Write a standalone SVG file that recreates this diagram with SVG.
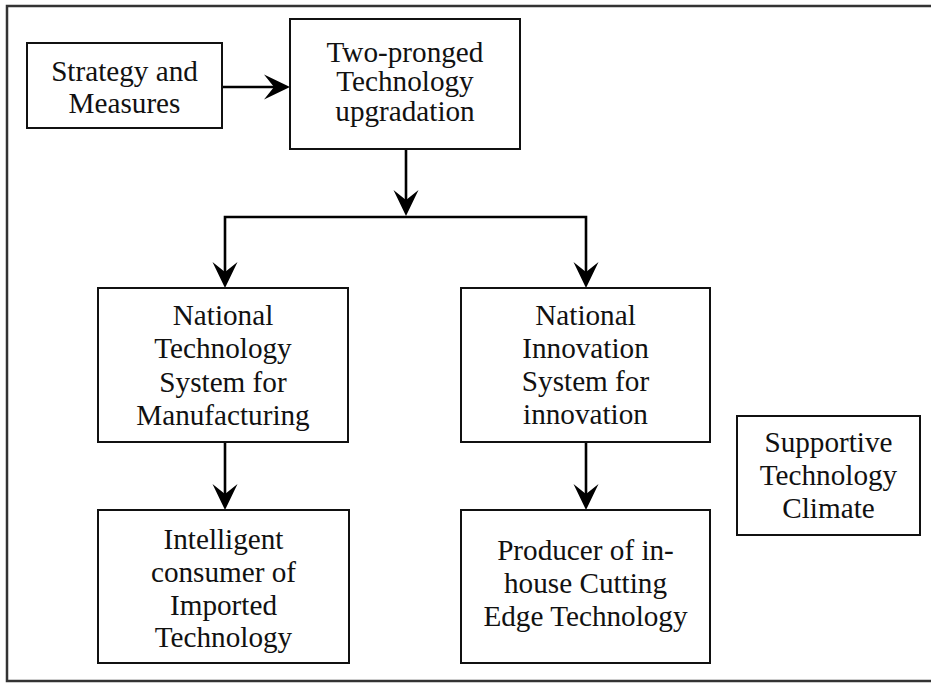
<svg xmlns="http://www.w3.org/2000/svg" width="931" height="683" viewBox="0 0 931 683">
<style>
  .frame { fill: none; stroke: #333; stroke-width: 2.5; }
  .box { fill: #fff; stroke: #111; stroke-width: 2; }
  .lbl { font-family: "Liberation Serif", "Times New Roman", serif; font-size: 29.2px; fill: #111; text-anchor: middle; }
  .conn { fill: none; stroke: #000; stroke-width: 2.6; }
</style>
<defs>
  <marker id="arrow" markerUnits="userSpaceOnUse" markerWidth="30" markerHeight="30" viewBox="0 -15 30 30" refX="16" refY="0" orient="auto" overflow="visible">
    <path d="M0,-12.5 L26,0 L0,12.5 L10,0 Z" fill="#000"/>
  </marker>
</defs>
<rect width="931" height="683" fill="#fff"/>
<rect class="frame" x="7" y="6" width="940" height="675"/>

<g id="connectors">
  <path class="conn" d="M222,87 H280" marker-end="url(#arrow)"/>
  <path class="conn" d="M406,149 V206" marker-end="url(#arrow)"/>
  <path class="conn" d="M406,217 H225 V278" marker-end="url(#arrow)"/>
  <path class="conn" d="M406,217 H586 V278" marker-end="url(#arrow)"/>
  <path class="conn" d="M225,442 V500" marker-end="url(#arrow)"/>
  <path class="conn" d="M586,442 V500" marker-end="url(#arrow)"/>
</g>

<g id="strategy">
  <rect class="box" x="27" y="43" width="195" height="85"/>
  <text class="lbl" x="124.5" y="81">Strategy and</text>
  <text class="lbl" x="124.5" y="113">Measures</text>
</g>

<g id="two-pronged">
  <rect class="box" x="290" y="19" width="230" height="130"/>
  <text class="lbl" x="405" y="62">Two-pronged</text>
  <text class="lbl" x="405" y="91">Technology</text>
  <text class="lbl" x="405" y="121">upgradation</text>
</g>

<g id="nts">
  <rect class="box" x="98" y="288" width="250" height="154"/>
  <text class="lbl" x="223" y="325">National</text>
  <text class="lbl" x="223" y="358">Technology</text>
  <text class="lbl" x="223" y="392">System for</text>
  <text class="lbl" x="223" y="425">Manufacturing</text>
</g>

<g id="nis">
  <rect class="box" x="461" y="288" width="249" height="154"/>
  <text class="lbl" x="585.5" y="325">National</text>
  <text class="lbl" x="585.5" y="358">Innovation</text>
  <text class="lbl" x="585.5" y="391">System for</text>
  <text class="lbl" x="585.5" y="424">innovation</text>
</g>

<g id="consumer">
  <rect class="box" x="98" y="510" width="251" height="153"/>
  <text class="lbl" x="223.5" y="549">Intelligent</text>
  <text class="lbl" x="223.5" y="582">consumer of</text>
  <text class="lbl" x="223.5" y="615">Imported</text>
  <text class="lbl" x="223.5" y="647">Technology</text>
</g>

<g id="producer">
  <rect class="box" x="461" y="510" width="249" height="153"/>
  <text class="lbl" x="585.5" y="560">Producer of in-</text>
  <text class="lbl" x="585.5" y="593">house Cutting</text>
  <text class="lbl" x="585.5" y="626">Edge Technology</text>
</g>

<g id="supportive">
  <rect class="box" x="737" y="416" width="183" height="119"/>
  <text class="lbl" x="828.5" y="452">Supportive</text>
  <text class="lbl" x="828.5" y="485">Technology</text>
  <text class="lbl" x="828.5" y="518">Climate</text>
</g>
</svg>
